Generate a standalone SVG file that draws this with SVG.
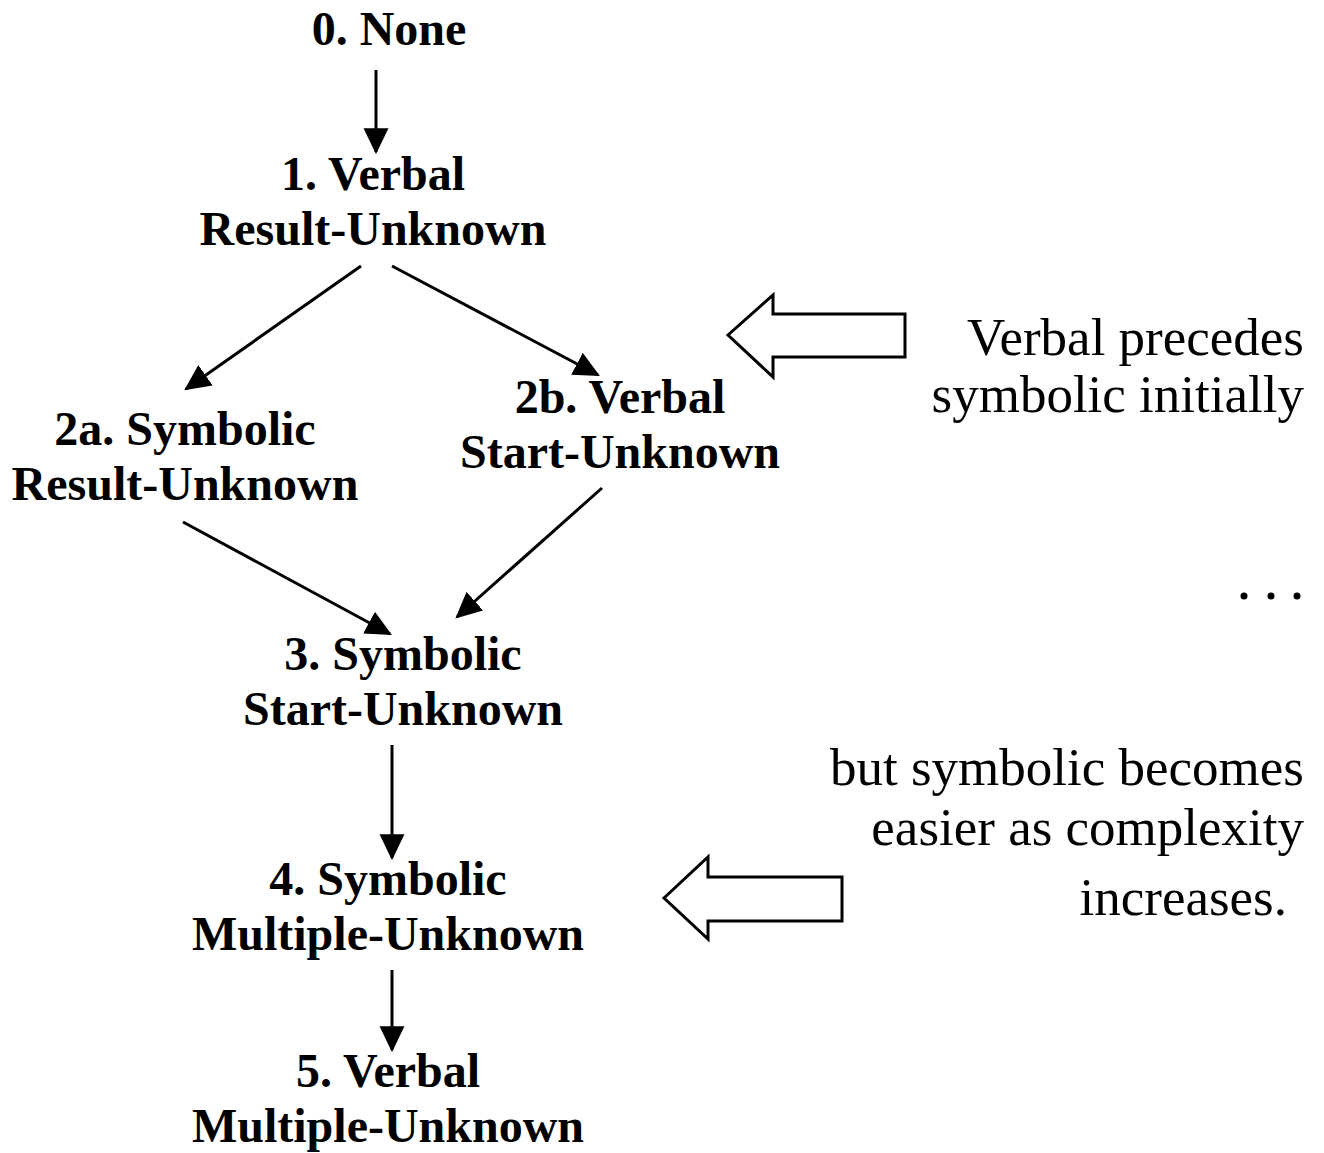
<svg xmlns="http://www.w3.org/2000/svg" width="1324" height="1153" viewBox="0 0 1324 1153">
<style>
.n{font-family:"Liberation Serif","Times New Roman",serif;font-weight:bold;font-size:48px;fill:#000;text-anchor:middle}
.c{font-family:"Liberation Serif","Times New Roman",serif;font-size:53px;fill:#000;text-anchor:end}
.e{stroke:#000;stroke-width:3;fill:none;marker-end:url(#ah)}
.h{fill:#fff;stroke:#000;stroke-width:3;stroke-linejoin:miter}
</style>
<defs>
<marker id="ah" markerUnits="userSpaceOnUse" markerWidth="26" markerHeight="26" viewBox="0 0 24 24" refX="22" refY="12" orient="auto">
<path d="M0,0.5 L24,12 L0,23.5 Z" fill="#000"/>
</marker>
</defs>
<rect width="1324" height="1153" fill="#fff"/>
<g id="connectors">
<line class="e" x1="376" y1="70" x2="376" y2="152"/>
<line class="e" x1="361" y1="266" x2="186" y2="389"/>
<line class="e" x1="392" y1="266" x2="598" y2="375"/>
<line class="e" x1="183" y1="522" x2="390" y2="634"/>
<line class="e" x1="602" y1="488" x2="457" y2="617"/>
<line class="e" x1="392" y1="745" x2="392" y2="858"/>
<line class="e" x1="392" y1="970" x2="392" y2="1050"/>
</g>
<g id="n0"><text class="n" x="389" y="45">0. None</text></g>
<g id="n1"><text class="n" x="373" y="190">1. Verbal</text><text class="n" x="373" y="245">Result-Unknown</text></g>
<g id="n2a"><text class="n" x="185" y="445">2a. Symbolic</text><text class="n" x="185" y="500">Result-Unknown</text></g>
<g id="n2b"><text class="n" x="620" y="413">2b. Verbal</text><text class="n" x="620" y="468">Start-Unknown</text></g>
<g id="n3"><text class="n" x="403" y="670">3. Symbolic</text><text class="n" x="403" y="725">Start-Unknown</text></g>
<g id="n4"><text class="n" x="388" y="895">4. Symbolic</text><text class="n" x="388" y="950">Multiple-Unknown</text></g>
<g id="n5"><text class="n" x="388" y="1087">5. Verbal</text><text class="n" x="388" y="1142">Multiple-Unknown</text></g>
<g id="callout1">
<polygon class="h" points="728,335 773,295 773,314 905,314 905,357 773,357 773,377"/>
<text class="c" x="1304" y="355">Verbal precedes</text>
<text class="c" x="1304" y="412">symbolic initially</text>
</g>
<g id="ellipsis">
<circle cx="1244" cy="596" r="3.5" fill="#000"/>
<circle cx="1271" cy="596" r="3.5" fill="#000"/>
<circle cx="1297" cy="596" r="3.5" fill="#000"/>
</g>
<g id="callout2">
<polygon class="h" points="664,898 708,857 708,877 842,877 842,921 708,921 708,939"/>
<text class="c" x="1304" y="785">but symbolic becomes</text>
<text class="c" x="1304" y="845">easier as complexity</text>
<text class="c" x="1287" y="915">increases.</text>
</g>
</svg>
